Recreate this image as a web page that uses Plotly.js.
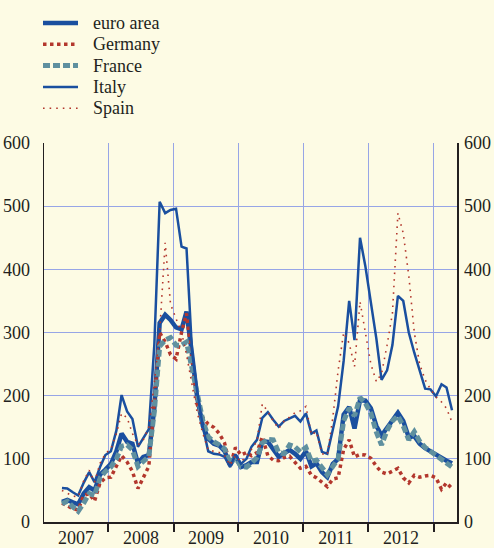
<!DOCTYPE html>
<html>
<head>
<meta charset="utf-8">
<script src="https://cdn.plot.ly/plotly-3.0.1.min.js"></script>
<style>
  body { margin: 0; background: #fdfbe4; }
  #chart { width: 494px; height: 548px; }
</style>
</head>
<body>
<div id="chart"></div>
<script>
// Monthly observations, April 2007 to April 2013 (mid-month)
var months = [];
for (var y = 2007; y <= 2013; y++) {
  for (var m = 1; m <= 12; m++) {
    if (y === 2007 && m < 4) continue;
    if (y === 2013 && m > 4) break;
    months.push(y + '-' + (m < 10 ? '0' + m : m) + '-15');
  }
}

// Series values
var euroArea = [
  32, 35, 31, 28, 45, 55, 50, 75, 83,
  92, 112, 140, 127, 124, 93, 103, 106, 180, 315, 328, 320,
  308, 305, 333, 265, 195, 152, 132, 124, 121, 112, 90, 105,
  87, 90, 95, 95, 128, 127, 115, 103, 109, 114, 108, 100,
  112, 88, 93, 79, 71, 92, 100, 170, 182, 148, 193, 192,
  180, 152, 137, 150, 160, 173, 160, 134, 136, 124, 117, 112,
  107, 100, 97, 93
];
var germany = [
  30, 26, 21, 19, 42, 45, 33, 62, 70,
  71, 90, 105, 95, 80, 53, 70, 88, 190, 300, 285, 265,
  258, 300, 330, 255, 185, 165, 155, 150, 140, 125, 88, 118,
  106, 110, 105, 110, 135, 105, 98, 97, 102, 104, 95, 85,
  88, 74, 70, 62, 56, 68, 70, 115, 130, 103, 107, 106,
  101, 88, 79, 76, 80, 85, 70, 62, 74, 71, 73, 74,
  70, 52, 62, 53
];
var france = [
  29, 33, 24, 17, 30, 45, 42, 70, 80,
  87, 100, 120, 122, 114, 88, 96, 104, 175, 278, 288, 292,
  280, 280, 285, 245, 198, 160, 135, 127, 122, 116, 93, 102,
  88, 87, 93, 102, 125, 131, 130, 110, 108, 122, 119, 111,
  118, 96, 98, 85, 75, 88, 100, 160, 180, 168, 197, 188,
  172, 142, 122, 145, 160, 168, 152, 130, 143, 128, 118, 112,
  106, 99, 94, 87
];
var italy = [
  54, 53, 47, 42, 62, 79, 63, 87, 106,
  112, 145, 201, 175, 163, 119, 133, 147, 280, 507, 489, 494,
  496, 436, 433, 270, 205, 150, 112, 108, 107, 103, 87, 107,
  92, 100, 119, 130, 165, 174, 162, 151, 160, 164, 168, 159,
  172, 140, 145, 111, 108, 146, 183, 255, 350, 288, 450, 405,
  345, 290, 225, 240, 280, 358, 350, 300, 268, 238, 211, 210,
  199, 218, 213, 177
];
var spain = [
  50, 46, 41, 40, 65, 82, 63, 93, 108,
  116, 140, 172, 165, 140, 122, 130, 150, 220, 300, 442, 345,
  322, 300, 265, 215, 172, 140, 114, 112, 110, 105, 90, 105,
  95, 105, 115, 128, 187, 175, 160, 148, 160, 166, 173, 176,
  183, 138, 143, 108, 106, 165, 240, 300, 283, 246, 349, 300,
  250, 222, 235, 280, 330, 489, 457, 390, 300, 250, 225, 210,
  198, 190, 180, 158
];

var seriesNames = ['euro area', 'Germany', 'France', 'Italy', 'Spain'];
var seriesValues = [euroArea, germany, france, italy, spain];

var blue = '#1a4f9f';
var red = '#b3372d';
var teal = '#5f909f';
var lineStyles = [
  { color: blue, width: 4.5 },
  { color: red, width: 3.5, dash: '3.5px,3.5px' },
  { color: teal, width: 5, dash: '7px,3px' },
  { color: blue, width: 2.5 },
  { color: red, width: 1.6, dash: '1.6px,5px' }
];

var data = seriesNames.map(function (name, i) {
  return { x: months, y: seriesValues[i], name: name, type: 'scatter',
           mode: 'lines', line: lineStyles[i], showlegend: false };
});
// carries the right-hand axis
data.push({ x: months, y: euroArea, yaxis: 'y2', type: 'scatter', mode: 'lines',
            showlegend: false, hoverinfo: 'skip', opacity: 0, line: { width: 0 } });

var ink = '#231f20';
var grid = '#97a5e6';
var serif = 'Liberation Serif';

// Legend drawn above the plot: sample line + label per series
var plotL = 44, plotB = 522, plotW = 413, plotH = 379;
var shapes = [], annotations = [];
seriesNames.forEach(function (name, i) {
  var py = 23 + i * 21.3;
  var yp = (plotB - py) / plotH;
  shapes.push({ type: 'line', xref: 'paper', yref: 'paper',
    x0: (43 - plotL) / plotW, x1: (78 - plotL) / plotW, y0: yp, y1: yp,
    line: lineStyles[i] });
  annotations.push({ xref: 'paper', yref: 'paper', x: (91 - plotL) / plotW, y: yp,
    xanchor: 'left', yanchor: 'middle', showarrow: false, text: name,
    font: { family: serif, size: 18, color: ink } });
});

var layout = {
  width: 494,
  height: 548,
  paper_bgcolor: '#fdfbe4',
  plot_bgcolor: '#fdfbe4',
  font: { family: serif, size: 18, color: ink },
  margin: { l: 44, r: 37, t: 143, b: 26 },
  showlegend: false,
  shapes: shapes,
  annotations: annotations,
  xaxis: {
    type: 'date',
    range: ['2007-01-04', '2013-05-13'],
    tick0: '2007-01-01', dtick: 'M12', tickformat: '%Y',
    ticklabelmode: 'period',
    ticks: 'outside', ticklen: 8, tickwidth: 2, tickcolor: ink,
    ticklabelstandoff: -9,
    showline: true, linecolor: ink, linewidth: 1.5,
    showgrid: true, gridcolor: grid, gridwidth: 1, zeroline: false
  },
  yaxis: {
    range: [0, 600], dtick: 100,
    showline: true, linecolor: ink, linewidth: 1.5,
    showgrid: true, gridcolor: grid, gridwidth: 1, zeroline: false,
    ticks: '', ticklabelstandoff: 9
  },
  yaxis2: {
    overlaying: 'y', side: 'right',
    range: [0, 600], dtick: 100,
    showline: true, linecolor: ink, linewidth: 1.5,
    showgrid: false, zeroline: false,
    ticks: '', ticklabelstandoff: 2
  }
};

Plotly.newPlot('chart', data, layout, { displayModeBar: false, staticPlot: true });
</script>
</body>
</html>
